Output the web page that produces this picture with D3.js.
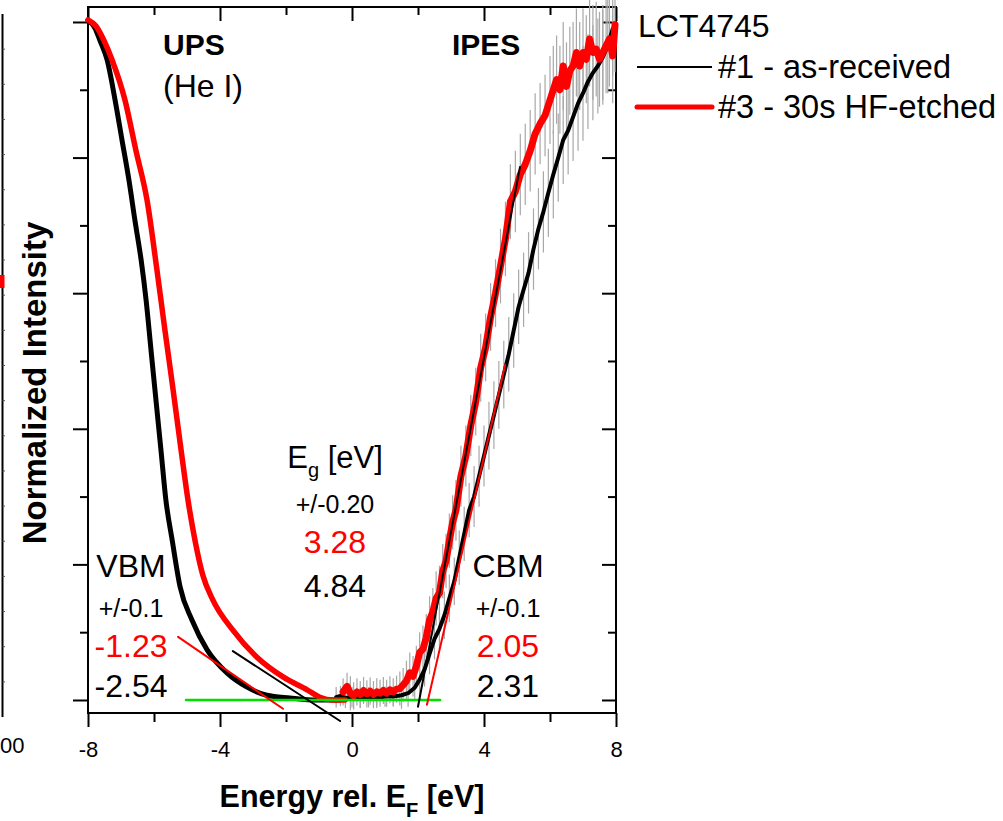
<!DOCTYPE html>
<html>
<head>
<meta charset="utf-8">
<script src="https://cdn.jsdelivr.net/npm/d3@7"></script>
<style>
  body { margin: 0; background: #fff; }
  text { font-family: "Liberation Sans", Arial, sans-serif; }
</style>
</head>
<body>
<div id="chart"></div>
<script>
// UPS spectra [E, I]
var upsBlack = [[-8,1.003],[-7.79,0.991],[-7.64,0.973],[-7.42,0.944],[-7.18,0.885],[-6.97,0.826],
  [-6.76,0.767],[-6.58,0.708],[-6.39,0.649],[-6.24,0.590],[-6.09,0.516],[-5.94,0.442],[-5.79,0.369],
  [-5.64,0.295],[-5.45,0.236],[-5.21,0.167],[-4.85,0.118],[-4.39,0.074],[-3.79,0.040],[-3.18,0.019],
  [-2.58,0.007],[-1.88,0.003],[-1.06,0.0],[-0.36,0.0]];
var upsRed = [[-8,1.003],[-7.76,0.994],[-7.52,0.973],[-7.27,0.944],[-6.88,0.885],[-6.55,0.811],
  [-6.21,0.737],[-5.91,0.634],[-5.67,0.546],[-5.42,0.457],[-5.18,0.369],[-4.97,0.295],[-4.76,0.236],
  [-4.52,0.184],[-4.21,0.147],[-3.61,0.103],[-2.88,0.063],[-2.09,0.034],[-1.36,0.015],[-0.97,0.004],
  [-0.58,0.0],[-0.21,0.0]];

// IPES spectra [E, I, error]
var ipesRed = [[-0.27,0.012,0.02],[-0.15,0.020,0.02],[-0.05,0.010,0.025],[0.05,0.006,0.02],[0.15,0.012,0.02],
  [0.25,0.008,0.02],[0.35,0.014,0.02],[0.45,0.009,0.02],[0.55,0.013,0.02],[0.65,0.008,0.02],[0.75,0.012,0.02],
  [0.85,0.010,0.02],[0.95,0.014,0.02],[1.05,0.010,0.02],[1.15,0.015,0.02],[1.25,0.012,0.02],[1.35,0.016,0.02],
  [1.45,0.017,0.025],[1.55,0.022,0.025],[1.65,0.028,0.03],[1.75,0.040,0.03],[1.85,0.035,0.03],[1.95,0.050,0.03],
  [2.05,0.070,0.03],[2.15,0.075,0.035],[2.25,0.092,0.035],[2.35,0.118,0.035],[2.45,0.130,0.035],[2.55,0.150,0.04],
  [2.65,0.158,0.04],[2.75,0.190,0.04],[2.85,0.205,0.04],[2.95,0.235,0.04],[3.05,0.262,0.04],[3.15,0.280,0.045],
  [3.3,0.330,0.045],[3.45,0.360,0.045],[3.6,0.405,0.045],[3.75,0.440,0.05],[3.9,0.490,0.05],[4.05,0.520,0.05],
  [4.2,0.565,0.05],[4.35,0.600,0.05],[4.5,0.640,0.055],[4.65,0.680,0.055],[4.8,0.735,0.055],[4.95,0.750,0.06],
  [5.1,0.775,0.06],[5.25,0.790,0.06],[5.4,0.810,0.06],[5.55,0.835,0.06],[5.7,0.850,0.06],[5.85,0.862,0.06],
  [6.0,0.885,0.065],[6.1,0.900,0.065],[6.2,0.915,0.065],[6.3,0.900,0.065],[6.4,0.935,0.065],[6.5,0.905,0.065],
  [6.6,0.928,0.065],[6.7,0.935,0.065],[6.8,0.955,0.065],[6.9,0.935,0.065],[7.0,0.955,0.065],[7.1,0.945,0.065],
  [7.2,0.975,0.07],[7.3,0.955,0.07],[7.4,0.960,0.07],[7.5,0.945,0.07],[7.6,0.955,0.07],[7.7,0.965,0.07],
  [7.8,0.975,0.07],[7.9,0.950,0.07],[7.97,0.996,0.07]];
var ipesBlack = [[-0.48,0.004,0.015],[-0.35,0.006,0.015],[-0.2,0.003,0.015],[0.0,0.004,0.015],[0.25,0.003,0.015],
  [0.5,0.004,0.015],[0.75,0.003,0.015],[1.0,0.005,0.015],[1.25,0.005,0.015],[1.5,0.007,0.02],[1.7,0.010,0.02],
  [1.9,0.018,0.02],[2.05,0.030,0.025],[2.2,0.045,0.025],[2.35,0.068,0.03],[2.5,0.090,0.03],[2.65,0.105,0.03],
  [2.8,0.125,0.035],[2.95,0.150,0.035],[3.1,0.175,0.035],[3.25,0.210,0.04],[3.4,0.245,0.04],[3.55,0.280,0.04],
  [3.7,0.300,0.045],[3.85,0.330,0.045],[4.0,0.360,0.045],[4.15,0.390,0.05],[4.3,0.420,0.05],[4.45,0.450,0.05],
  [4.6,0.480,0.05],[4.75,0.510,0.055],[4.9,0.545,0.055],[5.05,0.580,0.055],[5.2,0.605,0.055],[5.35,0.630,0.06],
  [5.5,0.665,0.06],[5.65,0.695,0.06],[5.8,0.720,0.06],[5.95,0.748,0.065],[6.1,0.775,0.065],[6.25,0.800,0.065],
  [6.4,0.826,0.065],[6.55,0.840,0.065],[6.7,0.860,0.065],[6.85,0.880,0.07],[7.0,0.895,0.07],[7.15,0.912,0.07],
  [7.3,0.925,0.07],[7.45,0.935,0.07],[7.6,0.948,0.07],[7.75,0.965,0.07],[7.9,0.990,0.07]];

// linear fits (endpoints)
var baseline = [[-5.03,0.0],[2.67,0.0]];
var vbmRedFit = [[-5.27,0.093],[-2.09,-0.013]];
var vbmBlackFit = [[-3.61,0.072],[-0.36,-0.031]];
var cbmBlackFit = [[2.0,-0.010],[5.09,0.786]];
var cbmRedFit = [[2.27,-0.007],[4.64,0.494]];

var xMajor = [-8, -4, 0, 4, 8];
var xMinor = [-6, -2, 2, 6];
var yMajor = [0, 0.2, 0.4, 0.6, 0.8, 1.0];
var yMinor = [0.1, 0.3, 0.5, 0.7, 0.9];

var vbmLabels = ["VBM", "+/-0.1", "-1.23", "-2.54"];
var cbmLabels = ["CBM", "+/-0.1", "2.05", "2.31"];
var egLabels = ["+/-0.20", "3.28", "4.84"];
var labelColors = ["#000", "#000", "#ff0000", "#000"];

var W = 1003, H = 821;
var svg = d3.select("#chart").append("svg")
  .attr("width", W).attr("height", H);

var x = d3.scaleLinear().domain([-8, 8]).range([88, 616]);
var y = d3.scaleLinear().domain([-0.0192, 1.0221]).range([713, 7]);

// piece of the neighbouring panel at the left edge
var yl = d3.scaleLinear().domain([0, 20]).range([717, 14]);
svg.append("line").attr("x1", 2.5).attr("x2", 2.5).attr("y1", 14).attr("y2", 717)
  .attr("stroke", "#000").attr("stroke-width", 2);
svg.selectAll(".ltick").data(d3.range(1, 20)).enter().append("line")
  .attr("x1", 2.5).attr("x2", 5).attr("y1", d => yl(d)).attr("y2", d => yl(d))
  .attr("stroke", "#555").attr("stroke-width", 1);
svg.append("line").attr("x1", 1).attr("x2", 1).attr("y1", 275).attr("y2", 288)
  .attr("stroke", "#ff0000").attr("stroke-width", 7);
svg.append("text").attr("x", 0).attr("y", 753).attr("font-size", 22).text("00");

// axes
function addAxis(axis, tx, ty, vals, size) {
  var g = svg.append("g").attr("transform", "translate(" + tx + "," + ty + ")")
    .call(axis.tickValues(vals).tickSize(size).tickPadding(8));
  g.select(".domain").remove();
  g.selectAll(".tick line").attr("stroke-width", 2);
  return g;
}
var bx = addAxis(d3.axisBottom(x).tickFormat(d => String(d)), 0, 713, xMajor, 14);
bx.selectAll("text").attr("font-size", 22).attr("font-family", "Liberation Sans, Arial")
  .attr("fill", "#000").attr("dy", "1.0em");
addAxis(d3.axisBottom(x).tickFormat(""), 0, 713, xMinor, 9);
addAxis(d3.axisTop(x).tickFormat(""), 0, 7, xMajor, -14);
addAxis(d3.axisTop(x).tickFormat(""), 0, 7, xMinor, -8);
addAxis(d3.axisLeft(y).tickFormat(""), 88, 0, yMajor, 15);
addAxis(d3.axisLeft(y).tickFormat(""), 88, 0, yMinor, 8);
addAxis(d3.axisRight(y).tickFormat(""), 616, 0, yMajor, -14);
addAxis(d3.axisRight(y).tickFormat(""), 616, 0, yMinor, -8);

svg.append("rect").attr("x", 88).attr("y", 7).attr("width", 528).attr("height", 706)
  .attr("fill", "none").attr("stroke", "#000").attr("stroke-width", 2);

var line = d3.line().x(d => x(d[0])).y(d => y(d[1]));
var smooth = d3.line().curve(d3.curveMonotoneX).x(d => x(d[0])).y(d => y(d[1]));

// error bars
function errBars(data) {
  svg.append("g").selectAll("line").data(data).enter().append("line")
    .attr("x1", d => x(d[0])).attr("x2", d => x(d[0]))
    .attr("y1", d => y(d[1] - d[2])).attr("y2", d => y(d[1] + d[2]))
    .attr("stroke", "#a8a8a8").attr("stroke-width", 1.2);
}
errBars(ipesBlack);
errBars(ipesRed);

function curve(data, color, w, gen) {
  svg.append("path").datum(data).attr("d", gen || line)
    .attr("fill", "none").attr("stroke", color).attr("stroke-width", w)
    .attr("stroke-linejoin", "round").attr("stroke-linecap", "round");
}
curve(ipesBlack, "#000", 4);
curve(ipesRed, "#ff0000", 7);
curve(upsBlack, "#000", 5, smooth);
curve(upsRed, "#ff0000", 5.5, smooth);

// fits
curve(baseline, "#00e000", 2.5);
curve(vbmRedFit, "#ff0000", 2);
curve(vbmBlackFit, "#000", 2);
curve(cbmBlackFit, "#000", 2);
curve(cbmRedFit, "#ff0000", 2);

// labels
svg.append("text").attr("x", 163).attr("y", 55).attr("font-size", 30).attr("font-weight", "bold").text("UPS");
svg.append("text").attr("x", 163).attr("y", 97).attr("font-size", 32).text("(He I)");
svg.append("text").attr("x", 452).attr("y", 55).attr("font-size", 30).attr("font-weight", "bold").text("IPES");

function labelGroup(cx, vals, ys, sizes, colors) {
  vals.forEach(function (t, i) {
    svg.append("text").attr("x", cx).attr("y", ys[i]).attr("text-anchor", "middle")
      .attr("font-size", sizes[i]).attr("fill", colors[i]).text(t);
  });
}
labelGroup(131, vbmLabels, [577, 617, 657, 697], [32, 25, 32, 32], labelColors);
labelGroup(508, cbmLabels, [577, 617, 657, 697], [32, 25, 32, 32], labelColors);
labelGroup(335, egLabels, [513, 553, 597], [25, 32, 32], labelColors.slice(1));

var eg = svg.append("text").attr("x", 335).attr("y", 468).attr("text-anchor", "middle").attr("font-size", 31);
eg.append("tspan").text("E");
eg.append("tspan").attr("font-size", 20).attr("dy", 9).text("g");
eg.append("tspan").attr("dy", -9).text(" [eV]");

// legend
svg.append("text").attr("x", 638).attr("y", 37).attr("font-size", 32).text("LCT4745");
svg.append("line").attr("x1", 637).attr("x2", 712).attr("y1", 67).attr("y2", 67)
  .attr("stroke", "#000").attr("stroke-width", 2);
svg.append("text").attr("x", 718).attr("y", 78).attr("font-size", 32.5).text("#1 - as-received");
svg.append("line").attr("x1", 637).attr("x2", 712).attr("y1", 107).attr("y2", 107)
  .attr("stroke", "#ff0000").attr("stroke-width", 5).attr("stroke-linecap", "round");
svg.append("text").attr("x", 718).attr("y", 118).attr("font-size", 32.5).text("#3 - 30s HF-etched");

// axis titles
var xt = svg.append("text").attr("x", 352).attr("y", 807).attr("text-anchor", "middle")
  .attr("font-size", 30.5).attr("font-weight", "bold");
xt.append("tspan").text("Energy rel. E");
xt.append("tspan").attr("font-size", 20).attr("dy", 10).text("F");
xt.append("tspan").attr("dy", -10).text(" [eV]");

svg.append("text").attr("transform", "translate(46,383) rotate(-90)").attr("text-anchor", "middle")
  .attr("font-size", 33).attr("font-weight", "bold").text("Normalized Intensity");
</script>
</body>
</html>
